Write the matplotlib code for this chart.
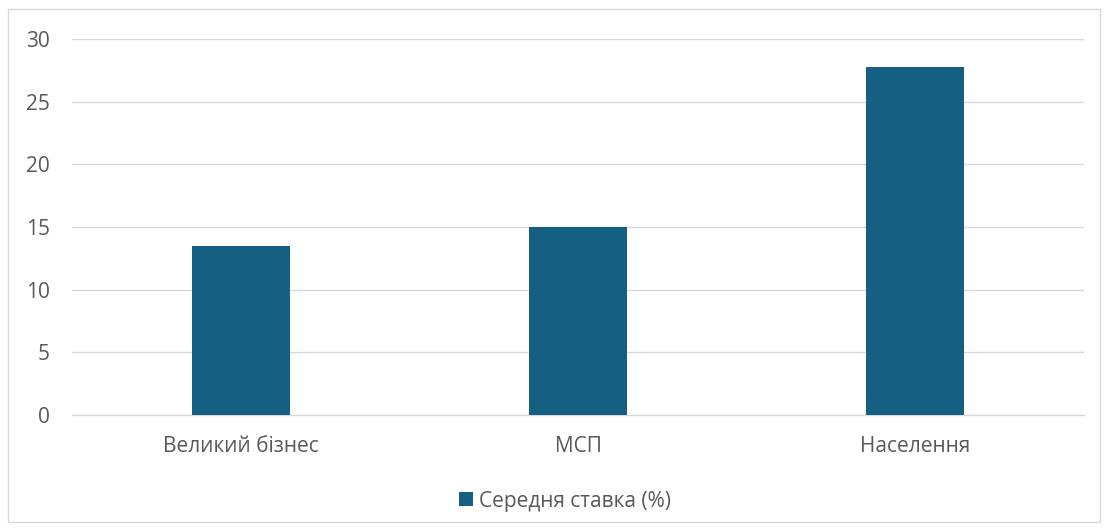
import matplotlib
matplotlib.use("Agg")
import matplotlib.pyplot as plt
from matplotlib.patches import Rectangle

categories = ["Великий бізнес", "МСП", "Населення"]
values = [13.5, 15.0, 27.8]
series_name = "Середня ставка (%)"
yticks = [0, 5, 10, 15, 20, 25, 30]

plt.rcParams['font.family'] = ['Open Sans', 'DejaVu Sans']

W, H = 1109, 531
fig = plt.figure(figsize=(W/100, H/100), dpi=100)
fig.patch.set_facecolor('white')

# outer frame
fig.patches.append(Rectangle((8/W, 1-522/H), (1100-8)/W, (522-9)/H,
                             transform=fig.transFigure, fill=False,
                             edgecolor='#d9d9d9', linewidth=1.0))

ax = fig.add_axes([72/W, 1-415/H, (1084-72)/W, (415-39)/H])
x = list(range(len(categories)))
bars = ax.bar(x, values, width=0.29, color='#156082', label=series_name, zorder=3)
ax.set_xlim(-0.5, len(categories)-0.5)
ax.set_ylim(0, 30)
ax.set_yticks(yticks)
ax.set_yticklabels([str(t) for t in yticks])
ax.set_xticks(x)
ax.set_xticklabels(categories)
ax.grid(axis='y', color='#d9d9d9', linewidth=1.0, zorder=0)
for s in ['top', 'right', 'left']:
    ax.spines[s].set_visible(False)
ax.spines['bottom'].set_color('#d9d9d9')
ax.spines['bottom'].set_linewidth(1.0)
ax.tick_params(axis='both', length=0, colors='#595959', labelsize=15)
ax.tick_params(axis='y', pad=16)
ax.tick_params(axis='x', pad=15)

fig.legend(handles=[bars], labels=[series_name], loc='center',
           bbox_to_anchor=(565/W, 1-501/H), frameon=False,
           fontsize=15, labelcolor='#595959', handlelength=0.65,
           handleheight=0.65, handletextpad=0.3)

fig.savefig('out.png', dpi=100, facecolor='white')
